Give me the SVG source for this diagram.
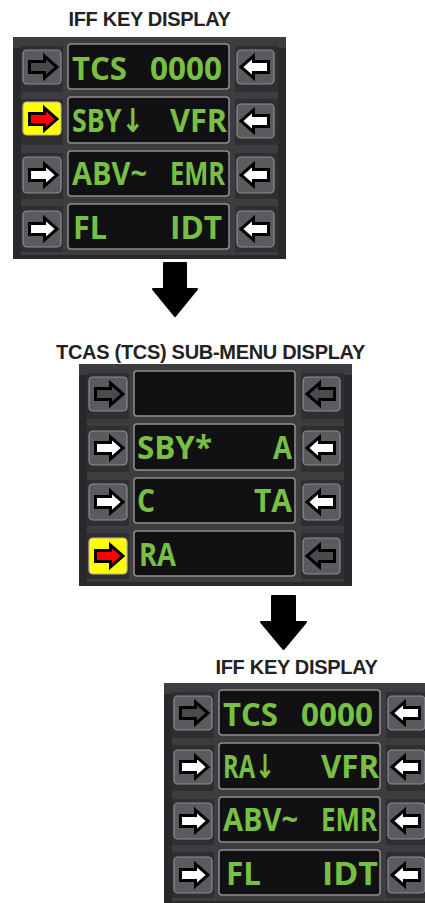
<svg xmlns="http://www.w3.org/2000/svg" xmlns:xlink="http://www.w3.org/1999/xlink" width="425" height="903" viewBox="0 0 425 903">
<style>
.hdr{font-family:"Liberation Sans",Arial,sans-serif;font-weight:700;font-size:20px;fill:#222;text-anchor:middle;letter-spacing:-0.3px}
.panel{fill:#3d3d3f}
.cell{fill:#2f2f31}
.edge{fill:#29292b}
.disp{fill:#111113;stroke:#8e8e92;stroke-width:1.5}
.btn{fill:#5b5b5f;stroke:#8e8e92;stroke-width:1.2}
.sel{fill:#ffff00;stroke:#b8b8a0;stroke-width:1.2}
.ar{stroke:#000;stroke-width:3;stroke-linejoin:miter}
.w{fill:#fff}.k{fill:#4a4a4c}.r{fill:#ff0000}
.t{font-family:"Open Sans","DejaVu Sans",sans-serif;font-weight:700;font-size:33px;fill:#78c043}
.e{text-anchor:end}
.big{fill:#000;stroke:#000;stroke-width:2;stroke-linejoin:round}
</style>
<defs>
<path id="aR" class="ar" d="M-13.5,-5.5 H1.5 V-11 L14,0 L1.5,11 V5.5 H-13.5 Z"/>
<path id="aL" class="ar" d="M13.5,-5.5 H-1.5 V-11 L-14,0 L-1.5,11 V5.5 H13.5 Z"/>
<g id="frame">
<rect class="panel" x="13" y="37" width="273" height="222"/>
<rect class="edge" x="13" y="48" width="8" height="211"/>
<rect class="edge" x="278" y="48" width="8" height="211"/>
<rect class="cell" x="21" y="46" width="42" height="46"/><rect class="cell" x="235" y="46" width="43" height="46"/>
<rect class="cell" x="21" y="99" width="42" height="46"/><rect class="cell" x="235" y="99" width="43" height="46"/>
<rect class="cell" x="21" y="153" width="42" height="46"/><rect class="cell" x="235" y="153" width="43" height="46"/>
<rect class="cell" x="21" y="206" width="42" height="46"/><rect class="cell" x="235" y="206" width="43" height="46"/>
<rect class="edge" x="13" y="255" width="273" height="4"/>
<rect class="disp" x="68" y="44" width="161" height="45" rx="3"/>
<rect class="disp" x="68" y="97" width="161" height="46" rx="3"/>
<rect class="disp" x="68" y="151" width="161" height="45" rx="3"/>
<rect class="disp" x="68" y="204" width="161" height="45" rx="3"/>
</g>
</defs>

<g id="title-1"><text class="hdr" x="149.5" y="26">IFF KEY DISPLAY</text></g>

<g id="iff-key-display-1">
<use xlink:href="#frame"/>
<g id="p1-row1">
<rect class="btn" x="23" y="50" width="38" height="34" rx="4"/><use xlink:href="#aR" class="k" x="43" y="67"/>
<rect class="btn" x="237" y="50" width="37" height="34" rx="4"/><use xlink:href="#aL" class="w" x="255" y="67"/>
<text class="t" x="72" y="79.5" textLength="55" lengthAdjust="spacingAndGlyphs">TCS</text><text class="t e" x="222" y="79.5" textLength="72" lengthAdjust="spacingAndGlyphs">0000</text>
</g>
<g id="p1-row2">
<rect class="sel" x="23" y="102" width="38" height="33" rx="4"/><use xlink:href="#aR" class="r" x="43" y="119"/>
<rect class="btn" x="237" y="104" width="37" height="34" rx="4"/><use xlink:href="#aL" class="w" x="255" y="121"/>
<text class="t" x="72" y="131.5" textLength="72" lengthAdjust="spacingAndGlyphs">SBY↓</text><text class="t e" x="227" y="131.5" textLength="57" lengthAdjust="spacingAndGlyphs">VFR</text>
</g>
<g id="p1-row3">
<rect class="btn" x="23" y="157" width="38" height="36" rx="4"/><use xlink:href="#aR" class="w" x="43" y="175"/>
<rect class="btn" x="237" y="157" width="37" height="36" rx="4"/><use xlink:href="#aL" class="w" x="255" y="175"/>
<text class="t" x="72" y="184.5" textLength="75" lengthAdjust="spacingAndGlyphs">ABV~</text><text class="t e" x="225" y="184.5" textLength="55" lengthAdjust="spacingAndGlyphs">EMR</text>
</g>
<g id="p1-row4">
<rect class="btn" x="23" y="211" width="38" height="36" rx="4"/><use xlink:href="#aR" class="w" x="43" y="229"/>
<rect class="btn" x="237" y="211" width="37" height="36" rx="4"/><use xlink:href="#aL" class="w" x="255" y="229"/>
<text class="t" x="73" y="238.5" textLength="34" lengthAdjust="spacingAndGlyphs">FL</text><text class="t e" x="222" y="238.5" textLength="52" lengthAdjust="spacingAndGlyphs">IDT</text>
</g>
</g>

<g id="title-2"><text class="hdr" x="210.5" y="359">TCAS (TCS) SUB-MENU DISPLAY</text></g>

<g id="tcas-submenu-display" transform="translate(66,327)">
<use xlink:href="#frame"/>
<g id="p2-row1">
<rect class="btn" x="23" y="50" width="38" height="34" rx="4"/><use xlink:href="#aR" class="k" x="43" y="67"/>
<rect class="btn" x="237" y="50" width="37" height="34" rx="4"/><use xlink:href="#aL" class="k" x="255" y="67"/>
</g>
<g id="p2-row2">
<rect class="btn" x="23" y="104" width="38" height="34" rx="4"/><use xlink:href="#aR" class="w" x="43" y="121"/>
<rect class="btn" x="237" y="104" width="37" height="34" rx="4"/><use xlink:href="#aL" class="w" x="255" y="121"/>
<text class="t" x="71" y="131.5" textLength="75" lengthAdjust="spacingAndGlyphs">SBY*</text><text class="t e" x="226" y="131.5" textLength="19" lengthAdjust="spacingAndGlyphs">A</text>
</g>
<g id="p2-row3">
<rect class="btn" x="23" y="157" width="38" height="36" rx="4"/><use xlink:href="#aR" class="w" x="43" y="175"/>
<rect class="btn" x="237" y="157" width="37" height="36" rx="4"/><use xlink:href="#aL" class="w" x="255" y="175"/>
<text class="t" x="71" y="184.5" textLength="18" lengthAdjust="spacingAndGlyphs">C</text><text class="t e" x="226" y="184.5" textLength="38" lengthAdjust="spacingAndGlyphs">TA</text>
</g>
<g id="p2-row4">
<rect class="sel" x="23" y="211" width="38" height="36" rx="4"/><use xlink:href="#aR" class="r" x="43" y="229"/>
<rect class="btn" x="237" y="211" width="37" height="36" rx="4"/><use xlink:href="#aL" class="k" x="255" y="229"/>
<text class="t" x="73" y="238.5" textLength="37" lengthAdjust="spacingAndGlyphs">RA</text>
</g>
</g>

<g id="title-3"><text class="hdr" x="296.5" y="674">IFF KEY DISPLAY</text></g>

<g id="iff-key-display-2" transform="translate(151,646)">
<use xlink:href="#frame"/>
<g id="p3-row1">
<rect class="btn" x="23" y="50" width="38" height="34" rx="4"/><use xlink:href="#aR" class="k" x="43" y="67"/>
<rect class="btn" x="237" y="50" width="37" height="34" rx="4"/><use xlink:href="#aL" class="w" x="255" y="67"/>
<text class="t" x="72" y="79.5" textLength="55" lengthAdjust="spacingAndGlyphs">TCS</text><text class="t e" x="222" y="79.5" textLength="72" lengthAdjust="spacingAndGlyphs">0000</text>
</g>
<g id="p3-row2">
<rect class="btn" x="23" y="104" width="38" height="34" rx="4"/><use xlink:href="#aR" class="w" x="43" y="121"/>
<rect class="btn" x="237" y="104" width="37" height="34" rx="4"/><use xlink:href="#aL" class="w" x="255" y="121"/>
<text class="t" x="72" y="131.5" textLength="52" lengthAdjust="spacingAndGlyphs">RA↓</text><text class="t e" x="228" y="131.5" textLength="58" lengthAdjust="spacingAndGlyphs">VFR</text>
</g>
<g id="p3-row3">
<rect class="btn" x="23" y="157" width="38" height="36" rx="4"/><use xlink:href="#aR" class="w" x="43" y="175"/>
<rect class="btn" x="237" y="157" width="37" height="36" rx="4"/><use xlink:href="#aL" class="w" x="255" y="175"/>
<text class="t" x="72" y="184.5" textLength="75" lengthAdjust="spacingAndGlyphs">ABV~</text><text class="t e" x="226" y="184.5" textLength="56" lengthAdjust="spacingAndGlyphs">EMR</text>
</g>
<g id="p3-row4">
<rect class="btn" x="23" y="211" width="38" height="36" rx="4"/><use xlink:href="#aR" class="w" x="43" y="229"/>
<rect class="btn" x="237" y="211" width="37" height="36" rx="4"/><use xlink:href="#aL" class="w" x="255" y="229"/>
<text class="t" x="75" y="238.5" textLength="35" lengthAdjust="spacingAndGlyphs">FL</text><text class="t e" x="227" y="238.5" textLength="56" lengthAdjust="spacingAndGlyphs">IDT</text>
</g>
</g>

<g id="connectors">
<polygon class="big" points="164,263 186,263 186,289 197,289 175,316 153,289 164,289"/>
<polygon class="big" points="272,596 295,596 295,622 306,622 283.5,649 261,622 272,622"/>
</g>
</svg>
